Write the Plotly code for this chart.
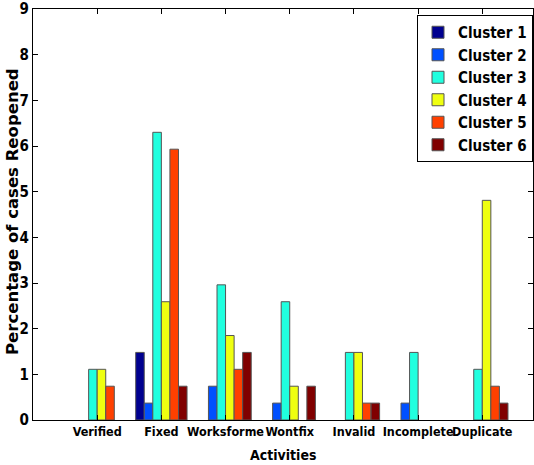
import plotly.graph_objects as go

activities = ["Verified", "Fixed", "Worksforme", "Wontfix", "Invalid", "Incomplete", "Duplicate"]
cluster_names = ["Cluster 1", "Cluster 2", "Cluster 3", "Cluster 4", "Cluster 5", "Cluster 6"]
cluster1 = [0, 1.48, 0, 0, 0, 0, 0]
cluster2 = [0, 0.37, 0.74, 0.37, 0, 0.37, 0]
cluster3 = [1.11, 6.30, 2.96, 2.59, 1.48, 1.48, 1.11]
cluster4 = [1.11, 2.59, 1.85, 0.74, 1.48, 0, 4.81]
cluster5 = [0.74, 5.93, 1.11, 0, 0.37, 0, 0.74]
cluster6 = [0, 0.74, 1.48, 0.74, 0.37, 0, 0.37]
colors = ["#00008F", "#0050FF", "#20FFDF", "#EFFF10", "#FF4000", "#800000"]

series = [cluster1, cluster2, cluster3, cluster4, cluster5, cluster6]
xpos = list(range(1, len(activities) + 1))

narrow = "DejaVu Sans Condensed, sans-serif"

fig = go.Figure()
for name, vals, col in zip(cluster_names, series, colors):
    fig.add_trace(go.Bar(
        x=xpos, y=[v if v != 0 else None for v in vals], name=name,
        marker=dict(color=col, line=dict(color="#555555", width=1)),
    ))

fig.update_layout(
    width=534, height=465,
    margin=dict(l=33, r=1, t=9, b=45, pad=0),
    paper_bgcolor="white", plot_bgcolor="white",
    barmode="group", bargap=0.2, bargroupgap=0,
    font=dict(family=narrow, color="black", size=12),
    legend=dict(
        x=1, y=1 - 6 / 411, xanchor="right", yanchor="top",
        bgcolor="white", bordercolor="black", borderwidth=1,
        font=dict(family=narrow, size=15, color="black", weight="bold"),
        tracegroupgap=0, itemwidth=30,
    ),
    xaxis=dict(
        range=[0, 7.79], tickmode="array", tickvals=xpos, ticktext=[f"<b>{a}</b>" for a in activities],
        tickangle=0, automargin=False,
        showline=True, linecolor="black", linewidth=1, mirror="ticks",
        ticks="inside", ticklen=5, tickcolor="black", showgrid=False, zeroline=False,
        tickfont=dict(family=narrow, size=12.5),
    ),
    yaxis=dict(
        range=[0, 9], tickmode="array", tickvals=list(range(0, 10)),
        ticktext=[f"<b>{i}</b>" for i in range(0, 10)], automargin=False,
        showline=True, linecolor="black", linewidth=1, mirror="ticks",
        ticks="inside", ticklen=5, tickcolor="black", showgrid=False, zeroline=False,
        tickfont=dict(family=narrow, size=15),
    ),
    annotations=[
        dict(
            text="<b>Percentage of cases Reopened</b>", textangle=-90,
            xref="paper", yref="paper", x=(13 - 33) / 500, y=(420 - 212) / 411,
            xanchor="center", yanchor="middle", showarrow=False,
            font=dict(family="DejaVu Sans, sans-serif", size=16.5, color="black"),
        ),
        dict(
            text="<b>Activities</b>",
            xref="paper", yref="paper", x=0.5, y=(420 - 455) / 411,
            xanchor="center", yanchor="middle", showarrow=False,
            font=dict(family=narrow, size=14, color="black"),
        ),
    ],
)

fig.write_html("out.html", config={"displayModeBar": False},
               post_script="document.body.style.margin='0';document.body.style.overflow='hidden';")
